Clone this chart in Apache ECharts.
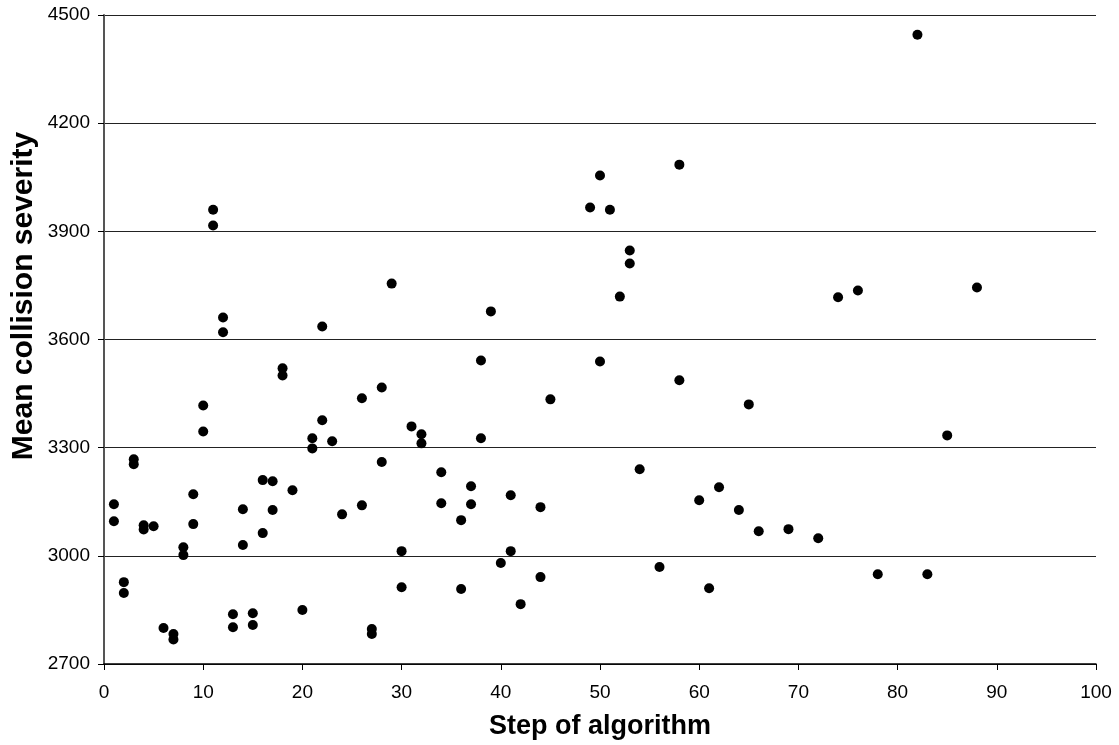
<!DOCTYPE html>
<html>
<head>
<meta charset="utf-8">
<script src="https://cdn.jsdelivr.net/npm/echarts@6/dist/echarts.min.js"></script>
<style>
html,body{margin:0;padding:0;background:#fff;}
#chart{width:1119px;height:745px;}
</style>
</head>
<body>
<div id="chart"></div>
<script>
const steps = [1,1,2,2,3,3,4,4,5,6,7,7,8,8,9,9,10,10,11,11,12,12,13,13,14,14,15,15,16,16,17,17,18,18,19,20,21,21,22,22,23,24,26,26,27,27,28,28,29,30,30,31,32,32,34,34,36,36,37,37,38,38,39,40,41,41,42,44,44,45,49,50,50,51,52,53,53,54,56,58,58,60,61,62,64,65,66,69,72,74,76,78,82,83,85,88];
const severity = [3143,3096,2927,2897,3268,3254,3085,3073,3082,2800,2783,2768,3024,3002,3171,3088,3417,3345,3960,3916,3661,3620,2838,2802,3129,3030,2841,2808,3210,3063,3207,3127,3520,3500,3182,2850,3326,3298,3636,3376,3318,3115,3437,3140,2797,2783,3467,3260,3755,3013,2913,3359,3337,3312,3232,3146,3099,2908,3193,3143,3542,3326,3678,2980,3168,3013,2866,3135,2941,3434,3966,4055,3539,3960,3719,3847,3811,3240,2969,4085,3487,3154,2910,3190,3127,3420,3068,3074,3049,3717,3736,2949,4445,2949,3334,3744];
const xTicks = {min:0, max:100, interval:10};
const yTicks = {min:2700, max:4500, interval:300};
const xTitle = 'Step of algorithm';
const yTitle = 'Mean collision severity';
const points = steps.map((s,i)=>[s, severity[i]]);

const chart = echarts.init(document.getElementById('chart'), null, {renderer:'canvas'});
chart.setOption({
  animation:false,
  backgroundColor:'#ffffff',
  grid:{left:104, right:23, top:15, bottom:81, containLabel:false, outerBoundsMode:'none'},
  graphic:[{
    type:'text', x:24, y:296, rotation:Math.PI/2,
    style:{text:yTitle, fontFamily:'Liberation Sans', fontWeight:'bold', fontSize:30, fill:'#000', align:'center', verticalAlign:'middle'}
  }],
  xAxis:{
    type:'value', min:xTicks.min, max:xTicks.max, interval:xTicks.interval,
    name:xTitle, nameLocation:'middle', nameGap:49,
    nameTextStyle:{fontFamily:'Liberation Sans', fontWeight:'bold', fontSize:27, color:'#000'},
    axisLine:{show:true, lineStyle:{color:'#000', width:1.5}},
    axisTick:{show:true, length:6, lineStyle:{color:'#000'}},
    axisLabel:{fontFamily:'Liberation Sans', fontSize:19, color:'#000', margin:19, formatter:v=>String(v)},
    splitLine:{show:false}
  },
  yAxis:{
    type:'value', min:yTicks.min, max:yTicks.max, interval:yTicks.interval,
    axisLine:{show:true, lineStyle:{color:'#555', width:2}},
    axisTick:{show:true, length:6, lineStyle:{color:'#000'}},
    axisLabel:{fontFamily:'Liberation Sans', fontSize:19, color:'#000', margin:14, formatter:v=>String(v)},
    splitLine:{show:true, lineStyle:{color:'#222', width:1}}
  },
  series:[{
    type:'scatter',
    data:points,
    symbol:'circle',
    symbolSize:10,
    itemStyle:{color:'#000', opacity:1},
    silent:true
  }]
});
</script>
</body>
</html>
